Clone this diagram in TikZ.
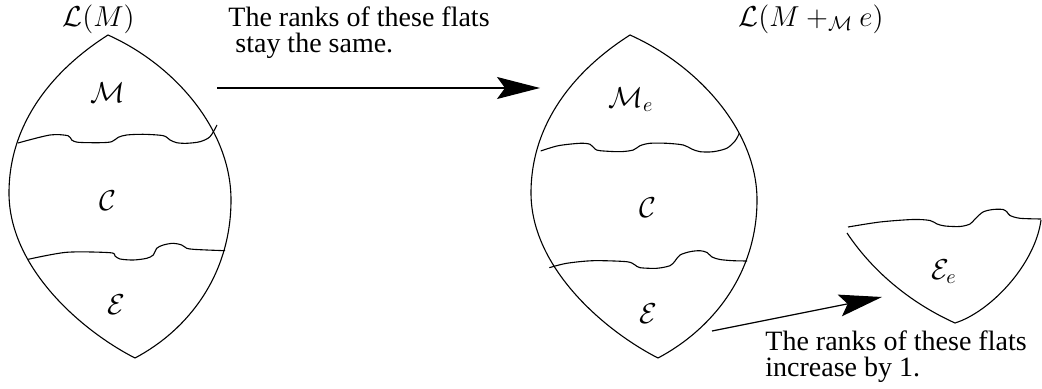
\documentclass[tikz,border=0pt]{standalone}
\usepackage{fontspec}
\setmainfont{Liberation Serif}
\usetikzlibrary{arrows.meta}
\begin{document}
\begin{tikzpicture}[x=0.5pt,y=-0.5pt,
  outline/.style={line width=0.55pt},
  lab/.style={inner sep=0pt, font=\fontsize{14}{13}\selectfont},
  txt/.style={inner sep=0pt, align=left, font=\fontsize{14}{13}\selectfont},
  bigarrow/.style={line width=0.6pt, -{Stealth[length=21.5pt,width=11pt,inset=4pt]}}]
\useasboundingbox (0,0) rectangle (1042,389);
% left lens
\draw[outline] (108,35) .. controls (53,70) and (9,123) .. (9,193)
  .. controls (9,268) and (82,331) .. (135,358)
  .. controls (188,330) and (231,275) .. (231,200)
  .. controls (231,130) and (175,65) .. cycle;
\draw[outline] plot[smooth,tension=0.5] coordinates {(18,143) (50,135) (68,135.7) (71.7,140) (78.3,142.3) (100,142.7) (111.7,141.7) (118.3,137.3) (126.7,135) (143.3,134.3) (163.3,135.7) (170,140) (176.7,142.7) (186.7,143.3) (200,141.7) (210,136.7) (217,125)};
\draw[outline] plot[smooth,tension=0.5] coordinates {(28.3,259.3) (66.7,252.3) (110,252.7) (115,256) (120,259) (133.3,260) (146.7,258.3) (153.3,255) (156.7,248.3) (163.3,245) (173.3,243.3) (181.7,245) (186.7,248.3) (193.3,249.3) (206.7,250) (225,250.7)};
% right lens
\draw[outline] (630,35) .. controls (575,70) and (531,123) .. (531,193)
  .. controls (531,268) and (605,331) .. (658,358)
  .. controls (711,330) and (757,275) .. (757,200)
  .. controls (757,130) and (697,65) .. cycle;
\draw[outline] plot[smooth,tension=0.5] coordinates {(540.7,151) (558.3,145.7) (580,143.3) (590,144.3) (595,149) (600,150.7) (620,151.7) (633.3,150) (640,145.7) (650,143.3) (666.7,143.3) (683.3,145) (691.7,149) (700,151.7) (713.3,151.7) (726.7,148.3) (735,141) (739.3,133.3)};
\draw[outline] plot[smooth,tension=0.5] coordinates {(549.3,267.7) (566.7,263.3) (593.3,260.7) (626.7,261.7) (635,265) (640,267.7) (656.7,268.3) (670,265.7) (675,261) (680,255) (690,251.7) (700,250.7) (707,252.5) (712,257) (720,259.5) (733,260.7) (747,261)};
% E_e piece
\draw[outline] plot[smooth,tension=0.5] coordinates {(848,227) (880,222) (913,219.5) (930,220.5) (937,224) (945,226) (960,226.5) (970,224) (975,219) (983,212) (993,209.5) (1003,209.5) (1007,212) (1010,215.5) (1020,218.3) (1041,219)};
\draw[outline] (847,233) .. controls (875,275) and (915,305) .. (955,323)
  .. controls (990,312) and (1035,265) .. (1041,220);
% labels
\node[lab] (LM) at (98.5,19) {$\mathcal{L}(M)$};
\node[lab] (M1) at (108,93) {$\mathcal{M}$};
\node[lab] (C1) at (108,201) {$\mathcal{C}$};
\node[lab] (E1) at (116,305) {$\mathcal{E}$};
\node[lab] (LMe) at (811,19) {$\mathcal{L}(M +_{\mathcal{M}} e)$};
\node[lab] (M2) at (631,100) {$\mathcal{M}_e$};
\node[lab] (C2) at (648,208) {$\mathcal{C}$};
\node[lab] (E2) at (648,314) {$\mathcal{E}$};
\node[lab] (Ee) at (944,272) {$\mathcal{E}_e$};
\node[txt,anchor=north west] (t1) at (228,6) {The ranks of these flats\\\hspace*{0.25em}stay the same.};
\node[txt,anchor=north west] (t2) at (765,330) {The ranks of these flats\\increase by 1.};
% arrows
\coordinate (a1) at (217,88);
\coordinate (a2) at (540,88);
\coordinate (b1) at (712,331);
\coordinate (b2) at (882,297);
\draw[bigarrow] (a1) -- (a2);
\draw[bigarrow] (b1) -- (b2);
\end{tikzpicture}
\end{document}
